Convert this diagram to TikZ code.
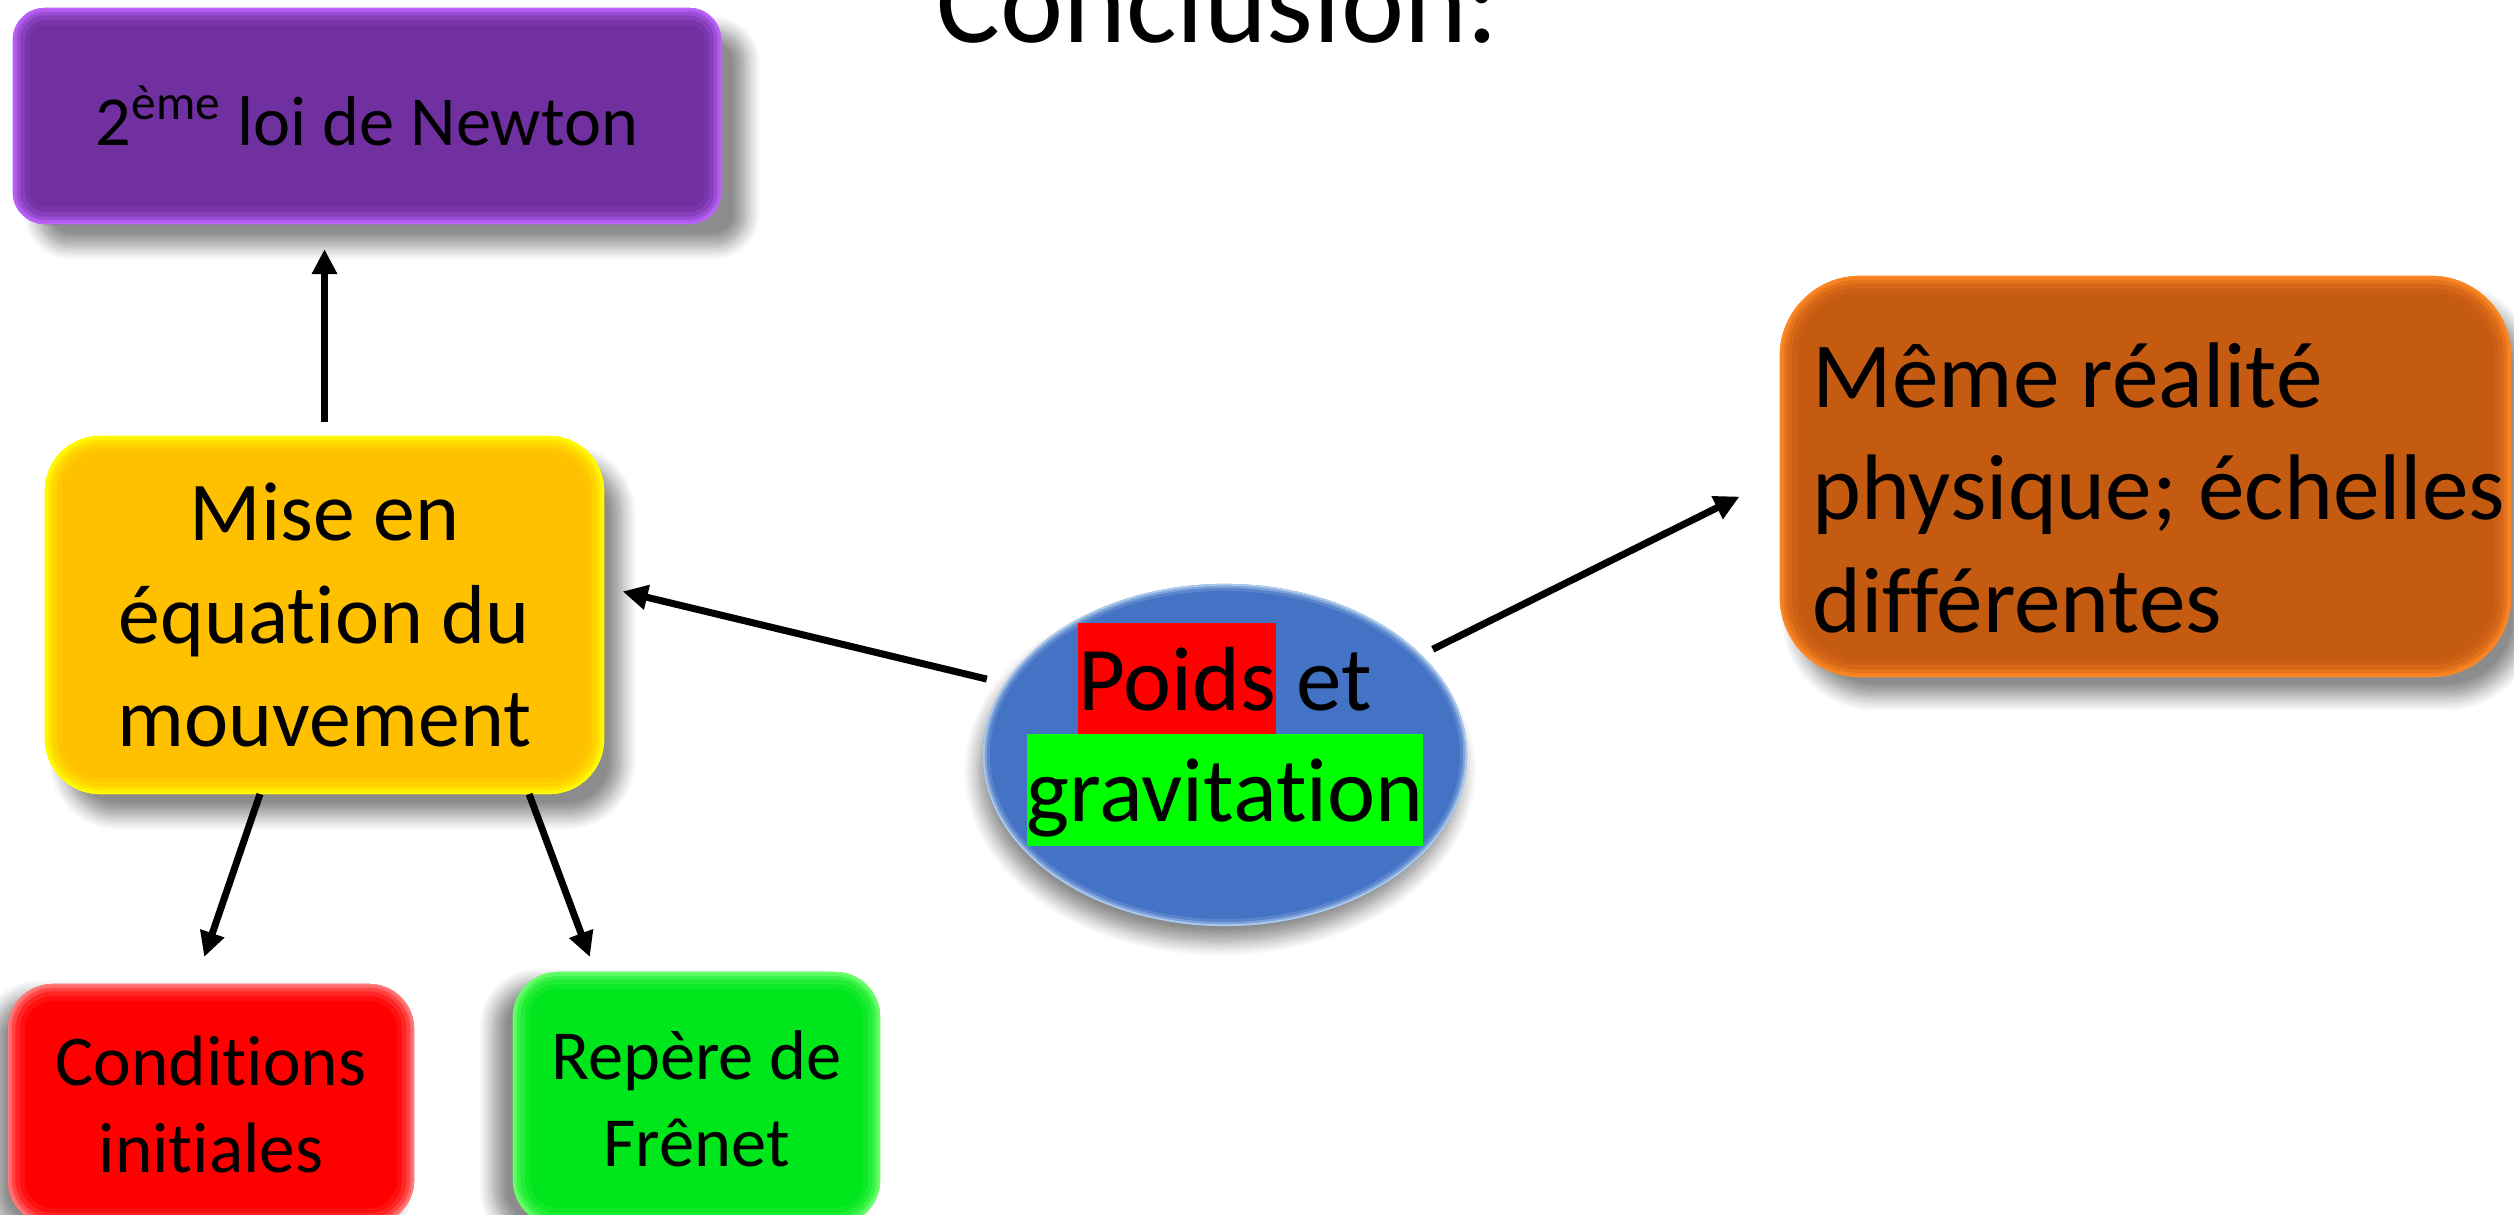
\documentclass[tikz,border=0pt]{standalone}
\usepackage{fontspec}
\setmainfont{Carlito}[Ligatures={NoCommon}]
\usetikzlibrary{arrows.meta,shapes.geometric,shadows.blur}
\definecolor{purpleF}{HTML}{7030A0}
\definecolor{purpleE}{HTML}{C066FF}
\definecolor{yellowF}{HTML}{FFC000}
\definecolor{yellowE}{HTML}{FFFF00}
\definecolor{orangeF}{HTML}{C55A11}
\definecolor{orangeE}{HTML}{FF8A26}
\definecolor{redF}{HTML}{FF0000}
\definecolor{redE}{HTML}{FF8080}
\definecolor{greenF}{HTML}{00E61C}
\definecolor{greenE}{HTML}{70FF70}
\definecolor{blueF}{HTML}{4472C4}
\definecolor{blueE}{HTML}{B4D2F0}
\definecolor{hlred}{HTML}{FF0000}
\definecolor{hlgreen}{HTML}{00FF00}
\setlength{\fboxsep}{0pt}
\newcommand\hlstrut{\rule[-0.269em]{0pt}{1.221em}}
\newcommand\topstrut{\rule{0pt}{0.952em}}
\newcommand\botstrut{\rule[-0.269em]{0pt}{0.269em}}
\newcommand\tightls{\lineskiplimit=-30pt\relax}
\begin{document}
\begin{tikzpicture}[x=0.01cm,y=-0.01cm,
  box/.style={rectangle, inner sep=0pt, outer sep=0pt, align=center, text=black},
  glowrect/.style 2 args={path picture={
    \foreach \w/\o in {0.34/0.12,0.24/0.2,0.15/0.35,0.08/0.6,0.03/0.9}{
      \draw[#1, line width=\w cm, opacity=\o, rounded corners=#2]
        (path picture bounding box.south west) rectangle (path picture bounding box.north east);}}},
  glowell/.style={path picture={
    \foreach \w/\o in {0.14/0.2,0.08/0.4,0.035/0.85}{
      \draw[#1, line width=\w cm, opacity=\o]
        (path picture bounding box.center) ellipse [x radius=2.42cm, y radius=1.71cm];}}},
  sh/.style 2 args={blur shadow={shadow xshift=#1, shadow yshift=#2, shadow blur radius=0.14cm, shadow blur steps=10, shadow opacity=45}},
  arr/.style={line width=0.07cm, -{Triangle[length=0.25cm,width=0.24cm]}}]
\useasboundingbox (0,0) rectangle (2514,1215);

\node[anchor=base, font=\fontsize{34}{40}\selectfont] (title) at (1218,42) {Conclusion:};

\node[box, fill=purpleF, rounded corners=0.32cm, glowrect={purpleE}{0.32cm}, minimum width=7.08cm, minimum height=2.16cm,
  sh={0.25cm}{-0.22cm}, font=\fontsize{20}{25}\selectfont] (newton) at (367,116) {2\textsuperscript{ème} loi de Newton};

\node[box, fill=yellowF, rounded corners=0.55cm, glowrect={yellowE}{0.55cm}, minimum width=5.59cm, minimum height=3.58cm,
  sh={0.18cm}{-0.22cm}, font=\fontsize{23.8}{29.3}\selectfont] (mise) at (324.5,615) {Mise en\\équation du\\mouvement};

\node[box, fill=orangeF, rounded corners=0.8cm, glowrect={orangeE}{0.8cm}, minimum width=7.31cm, minimum height=4.01cm,
  sh={0.15cm}{-0.2cm}] (meme) at (2145.5,476.5) {};
\node[anchor=west, align=left, inner sep=0pt, font=\fontsize{26.5}{32}\selectfont\tightls] (memetext) at (1812,488)
  {\topstrut Même réalité\\physique; échelles\\différentes\botstrut};

\node[ellipse, fill=blueF, glowell=blueE, inner sep=0pt, minimum width=4.84cm, minimum height=3.42cm,
  sh={-0.05cm}{-0.16cm}] (poids) at (1225,755) {};
\node[align=center, inner sep=0pt, font=\fontsize{25.9}{31.6}\selectfont\tightls] (poidstext) at (1225,734.5)
  {\colorbox{hlred}{\hlstrut Poids} et\\\colorbox{hlgreen}{\hlstrut gravitation}};

\node[box, fill=redF, rounded corners=0.45cm, glowrect={redE}{0.45cm}, minimum width=4.06cm, minimum height=2.41cm,
  sh={-0.15cm}{-0.1cm}, font=\fontsize{20.3}{24.8}\selectfont] (cond) at (211,1104.5) {Conditions\\initiales};

\node[box, fill=greenF, rounded corners=0.45cm, glowrect={greenE}{0.45cm}, minimum width=3.67cm, minimum height=2.53cm,
  sh={-0.2cm}{-0.1cm}, font=\fontsize{20}{24.8}\selectfont] (frenet) at (696.5,1098.5) {Repère de\\Frênet};

\draw[arr, shorten <=0.14cm, shorten >=0.25cm] (mise.north) -- (mise.north |- newton.south);
\draw[arr, shorten <=0.18cm, shorten >=0.19cm] (poids.162.8) -- ([yshift=0.28cm]mise.east);
\draw[arr, shorten <=0.12cm, shorten >=0.45cm] (poids.27) -- (meme.west);
\draw[arr, shorten >=0.285cm] ([xshift=-0.645cm]mise.south) -- ([xshift=-0.16cm]cond.north);
\draw[arr, shorten >=0.16cm] ([xshift=2.045cm]mise.south) -- ([xshift=-1.01cm]frenet.north);
\end{tikzpicture}
\end{document}
